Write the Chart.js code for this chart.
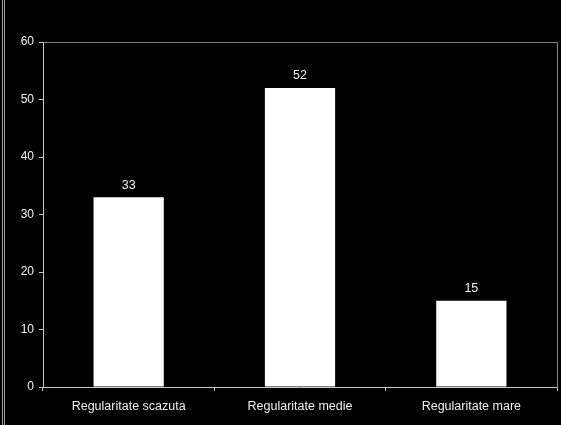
<!DOCTYPE html>
<html>
<head>
<meta charset="utf-8">
<script src="https://cdn.jsdelivr.net/npm/chart.js@4/dist/chart.umd.min.js"></script>
<style>
  html, body { margin: 0; padding: 0; background: #000; }
  #wrap { width: 561px; height: 425px; position: relative; }
  canvas { display: block; }
</style>
</head>
<body>
<div id="wrap"><canvas id="c" width="561" height="425"></canvas></div>
<script>
const categories = ["Regularitate scazuta", "Regularitate medie", "Regularitate mare"];
const values = [33, 52, 15];
const yTicks = [0, 10, 20, 30, 40, 50, 60];

const FONT = "'Liberation Sans', Arial, sans-serif";

const decor = {
  id: 'decor',
  beforeDraw(chart) {
    const ctx = chart.ctx;
    ctx.save();
    ctx.fillStyle = '#000';
    ctx.fillRect(0, 0, chart.width, chart.height);
    ctx.strokeStyle = '#a0a0a0';
    ctx.lineWidth = 1;
    [2.5, 4.5].forEach(x => {
      ctx.beginPath(); ctx.moveTo(x, 0); ctx.lineTo(x, chart.height); ctx.stroke();
    });
    ctx.restore();
  },
  afterDatasetsDraw(chart) {
    const ctx = chart.ctx;
    const a = chart.chartArea;
    ctx.save();
    ctx.strokeStyle = '#808080';
    ctx.lineWidth = 1;
    ctx.beginPath();
    ctx.moveTo(Math.round(a.left) + 0.5, Math.round(a.top) + 0.5);
    ctx.lineTo(Math.round(a.right) + 0.5, Math.round(a.top) + 0.5);
    ctx.lineTo(Math.round(a.right) + 0.5, Math.round(a.bottom) + 0.5);
    ctx.stroke();
    const meta = chart.getDatasetMeta(0);
    ctx.fillStyle = '#f0f0f0';
    ctx.font = '12.5px ' + FONT;
    ctx.textAlign = 'center';
    ctx.textBaseline = 'middle';
    meta.data.forEach((bar, i) => {
      ctx.fillText(String(values[i]), bar.x, bar.y - 12);
    });
    ctx.restore();
  }
};

new Chart(document.getElementById('c'), {
  type: 'bar',
  data: {
    labels: categories,
    datasets: [{
      data: values,
      backgroundColor: '#ffffff',
      borderWidth: 0,
      categoryPercentage: 1.0,
      barPercentage: 0.41
    }]
  },
  options: {
    responsive: false,
    animation: false,
    devicePixelRatio: 1,
    layout: { padding: { left: 0, top: 42, right: 4, bottom: 0 } },
    plugins: { legend: { display: false }, tooltip: { enabled: false } },
    scales: {
      x: {
        offset: true,
        border: { display: true, color: '#c8c8c8', width: 1 },
        grid: { display: true, drawOnChartArea: false, offset: true, tickLength: 4, color: '#c8c8c8' },
        ticks: { color: '#f0f0f0', font: { family: FONT, size: 12.5 }, padding: 8, maxRotation: 0 },
        afterFit(scale) { scale.height = 38; }
      },
      y: {
        min: 0, max: 60,
        afterBuildTicks(scale) { scale.ticks = yTicks.map(v => ({ value: v })); },
        border: { display: true, color: '#c8c8c8', width: 1 },
        grid: { display: true, drawOnChartArea: false, tickLength: 4, color: '#c8c8c8' },
        ticks: { color: '#f0f0f0', font: { family: FONT, size: 12 }, padding: 5 },
        afterFit(scale) { scale.width = 43; }
      }
    }
  },
  plugins: [decor]
});
</script>
</body>
</html>
